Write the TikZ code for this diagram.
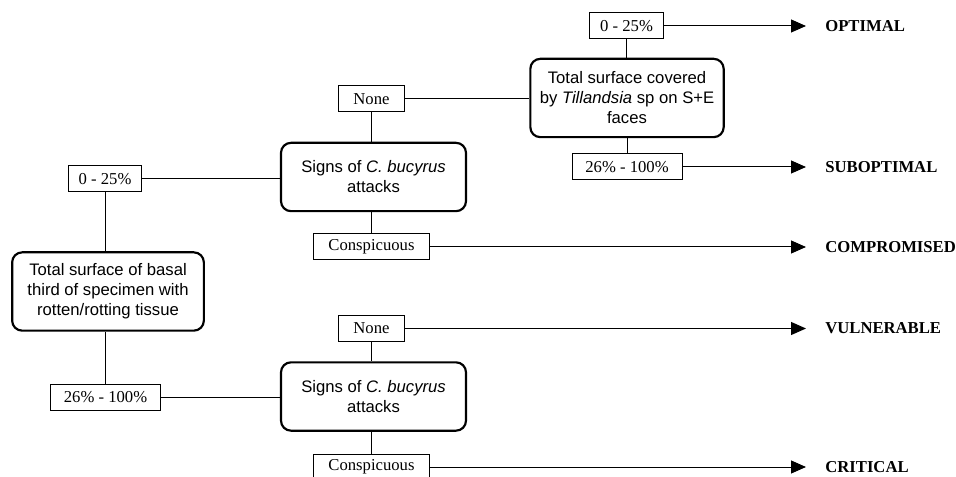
\documentclass[tikz,border=0pt]{standalone}
\usepackage{fontspec}
\setmainfont{Liberation Serif}
\setsansfont{Liberation Sans}
\usetikzlibrary{arrows.meta}

\begin{document}
\begin{tikzpicture}[x=0.6pt, y=-0.6pt,
	rangebox/.style={draw, line width=0.6pt, inner sep=0pt, font=\rmfamily},
	questionbox/.style={draw, line width=1.3pt, rounded corners=6pt, inner sep=0pt, align=center, font=\sffamily},
	outcomelabel/.style={anchor=west, inner sep=0pt, font=\rmfamily\bfseries},
	linkline/.style={line width=0.6pt},
	resultarrow/.style={line width=0.6pt, -{Triangle[length=9pt, width=7.8pt]}, shorten >=11.4pt}]
	 \useasboundingbox (0, 0) rectangle (956, 477);
	 
	 % upper branch
	 \node[questionbox, minimum width=116pt, minimum height=47pt] (till) at (627, 98) {Total surface covered\\ by \textit{Tillandsia} sp on S+E\\ faces};
	 \node[rangebox, minimum width=44pt, minimum height=15.6pt] (tilllow) at (626.5, 26) {0 - 25\%};
	 \node[rangebox, minimum width=66pt, minimum height=15.6pt] (tillhigh) at (627, 167) {26\% - 100\%};
	 \node[questionbox, minimum width=111pt, minimum height=41pt] (signsa) at (373.5, 177) {Signs of \textit{C. bucyrus}\\ attacks};
	 \node[rangebox, minimum width=40pt, minimum height=15.6pt] (nonea) at (371.5, 99) {None};
	 \node[rangebox, minimum width=70pt, minimum height=15.6pt] (conspa) at (371.5, 247) {Conspicuous};
	 
	 % root
	 \node[questionbox, minimum width=115pt, minimum height=47pt] (basal) at (108, 291.5) {Total surface of basal\\ third of specimen with\\ rotten/rotting tissue};
	 \node[rangebox, minimum width=44pt, minimum height=15.6pt] (basallow) at (105, 179) {0 - 25\%};
	 \node[rangebox, minimum width=66pt, minimum height=15.6pt] (basalhigh) at (105.5, 397) {26\% - 100\%};
	 
	 % lower branch
	 \node[questionbox, minimum width=111pt, minimum height=41pt] (signsb) at (373.5, 396.5) {Signs of \textit{C. bucyrus}\\ attacks};
	 \node[rangebox, minimum width=40pt, minimum height=15.6pt] (noneb) at (371.5, 328.5) {None};
	 \node[rangebox, minimum width=70pt, minimum height=15.6pt] (conspb) at (371.5, 467) {Conspicuous};
	 
	 % outcomes
	 \node[outcomelabel] (optimal) at (825, 26) {OPTIMAL};
	 \node[outcomelabel] (suboptimal) at (825, 167) {SUBOPTIMAL};
	 \node[outcomelabel] (compromised) at (825, 247) {COMPROMISED};
	 \node[outcomelabel] (vulnerable) at (825, 328.5) {VULNERABLE};
	 \node[outcomelabel] (critical) at (825, 467) {CRITICAL};
	 
	 \draw[linkline] (basallow.south) -- (basallow.south |- basal.north);
	 \draw[linkline] (basalhigh.north) -- (basalhigh.north |- basal.south);
	 \draw[linkline] (basallow.east) -- (basallow.east -| signsa.west);
	 \draw[linkline] (basalhigh.east) -- (basalhigh.east -| signsb.west);
	 \draw[linkline] (nonea.south) -- (nonea.south |- signsa.north);
	 \draw[linkline] (conspa.north) -- (conspa.north |- signsa.south);
	 \draw[linkline] (noneb.south) -- (noneb.south |- signsb.north);
	 \draw[linkline] (conspb.north) -- (conspb.north |- signsb.south);
	 \draw[linkline] (nonea.east) -- (nonea.east -| till.west);
	 \draw[linkline] (tilllow.south) -- (tilllow.south |- till.north);
	 \draw[linkline] (tillhigh.north) -- (tillhigh.north |- till.south);
	 
	 \draw[resultarrow] (tilllow.east) -- (optimal.west);
	 \draw[resultarrow] (tillhigh.east) -- (suboptimal.west);
	 \draw[resultarrow] (conspa.east) -- (compromised.west);
	 \draw[resultarrow] (noneb.east) -- (vulnerable.west);
	 \draw[resultarrow] (conspb.east) -- (critical.west);
\end{tikzpicture}
\end{document}
